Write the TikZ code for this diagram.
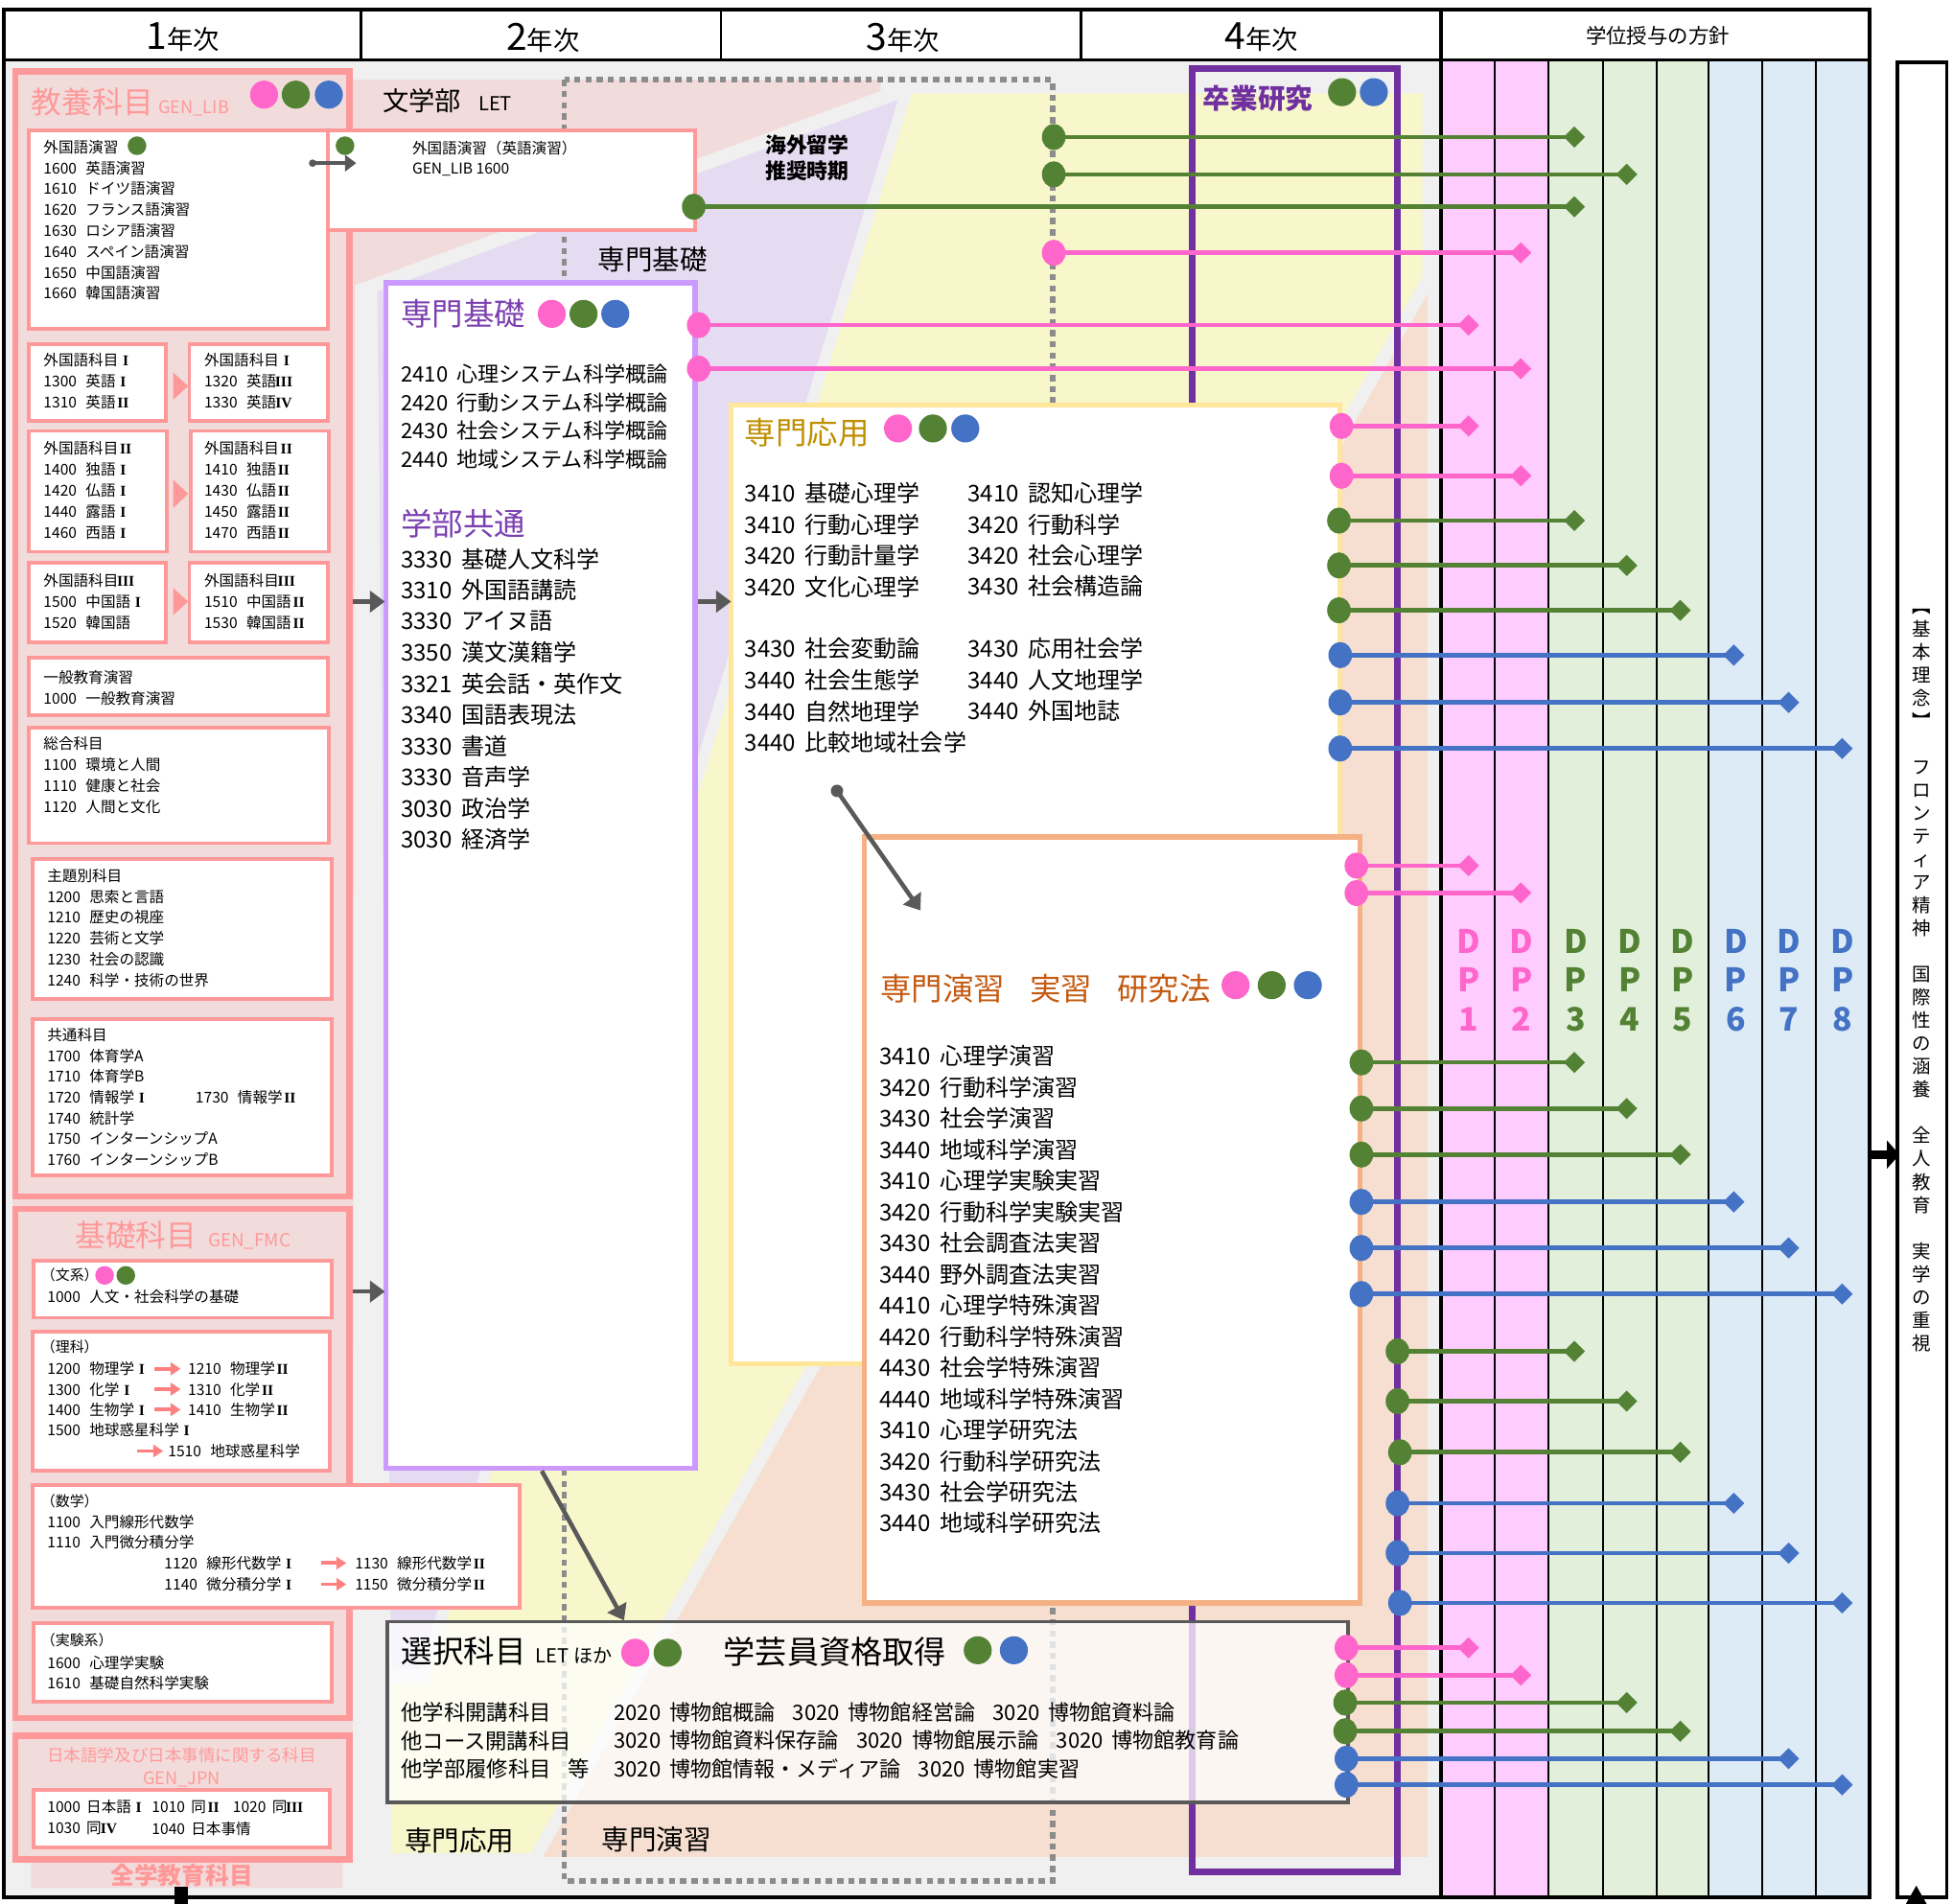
\documentclass[tikz,border=0pt]{standalone}
\usepackage{fontspec}
\setmainfont{Noto Sans CJK JP}
\newfontfamily\romf{Liberation Serif}
\usetikzlibrary{shapes.geometric,arrows.meta}
\definecolor{cpink}{HTML}{FF66CC}
\definecolor{cgreen}{HTML}{548235}
\definecolor{cblue}{HTML}{4472C4}
\definecolor{cpurple}{HTML}{7030A0}
\definecolor{cviolet}{HTML}{7B3FB0}
\definecolor{clav}{HTML}{CC99FF}
\definecolor{cyelb}{HTML}{FFE699}
\definecolor{cpeachb}{HTML}{F4B183}
\definecolor{csalmon}{HTML}{FF9999}
\definecolor{csalarr}{HTML}{FF8080}
\definecolor{bgpink}{HTML}{F2DCDB}
\definecolor{bglav}{HTML}{E6DCF2}
\definecolor{bgyel}{HTML}{F8F6CB}
\definecolor{bgpeach}{HTML}{F6DFD0}
\definecolor{bggray}{HTML}{F0F0F0}
\definecolor{dpa}{HTML}{FFCCFF}
\definecolor{dpb}{HTML}{E2EFDA}
\definecolor{dpc}{HTML}{DDEBF7}
\definecolor{cgold}{HTML}{BF8F00}
\definecolor{corange}{HTML}{C55A11}
\definecolor{cdark}{HTML}{595959}
\definecolor{cdash}{HTML}{8C8C8C}
\newcommand\fsz[1]{\fontsize{#1}{#1}\selectfont}
\newcommand\gq{\hspace{0.6em}}
\newcommand\gp{\hspace{0.4em}}
\newcommand\rn[1]{\makebox[1em][c]{\romf\bfseries #1}}
\newcommand\boxn[6]{\node[#1,minimum width={#5-#3},minimum height={#6-#4}] (#2) at (#3,#4) {};}
\newcommand\txl[6]{\foreach \lntxt [count=\lnidx from 0] in {#6}{\node[tx,font=\fsz{#5}] (#1\lnidx) at (#2,{#3+\lnidx*#4}) {\lntxt};}}
\newcommand\dpline[5]{%
  \coordinate (#1s) at (#3,#4); \coordinate (#1e) at (#5,#4);
  \draw[#2,line width=3.6] (#1s) -- (#1e);
  \node[sdot,fill=#2] (#1sd) at (#1s) {};
  \node[dmd,fill=#2] (#1ed) at (#1e) {};}
\tikzset{
  frm/.style={draw=csalmon,line width=5,fill=bgpink,rectangle,inner sep=0,outer sep=0,anchor=north west},
  ibx/.style={draw=csalmon,line width=3,fill=white,rectangle,inner sep=0,outer sep=0,anchor=north west},
  tdot/.style={circle,minimum size=22.5,inner sep=0,outer sep=0},
  smdot/.style={circle,minimum size=15,inner sep=0,outer sep=0},
  sdot/.style={ellipse,minimum width=19,minimum height=21,inner sep=0,outer sep=0},
  dmd/.style={diamond,minimum size=17,inner sep=0,outer sep=0},
  tx/.style={anchor=west,inner sep=0,outer sep=0},
  dplab/.style={align=center,font=\fontsize{26}{31}\selectfont\bfseries,inner sep=0},
  garr/.style={draw=cdark,line width=3.5,-{Triangle[length=12pt,width=17pt]}},
  sarr/.style={draw=csalarr,line width=3,-{Triangle[length=8pt,width=10pt]}}
}
\begin{document}
\begin{tikzpicture}[x=1pt,y=-1pt]
\useasboundingbox (0,0) rectangle (1568,1528.7);
\fill[white] (0,0) rectangle (1568,1528.7);
% body background and bands
\fill[bggray] (3,48) rectangle (1157,1523);
\fill[bgpink] (10,57) -- (283,57) -- (283,64) -- (707,64) -- (707,73) -- (285,229) -- (283,1495) -- (275,1495) -- (275,1516) -- (25,1516) -- (25,1495) -- (10,1495) -- cycle;
\fill[bglav] (721,80) -- (303,234) -- (314,1340) -- (337,1340) -- cycle;
\fill[bgyel] (732,75) -- (1142,75) -- (1142,222) -- (426,1488) -- (314,1488) -- (314,1352) -- (343,1352) -- cycle;
\fill[bgpeach] (1146,236) -- (1146,1491) -- (436,1491) -- cycle;
% DP columns
\fill[dpa] (1157,48) rectangle (1243,1523);
\fill[dpb] (1243,48) rectangle (1372,1523);
\fill[dpc] (1372,48) rectangle (1501,1523);
\foreach \xx in {1200,1243,1287,1330,1372,1415,1458} \draw[line width=1.4] (\xx,48) -- (\xx,1523);
% header
\fill[white] (3,8) rectangle (1501,48);
\draw[line width=3] (3,8) rectangle (1501,1523);
\draw[line width=2.5] (3,48) -- (1501,48);
\foreach \xx in {290,579,868} \draw[line width=2] (\xx,8) -- (\xx,48);
\draw[line width=3.5] (1157,8) -- (1157,1523);
\node[inner sep=0] (h1) at (147,30) {{\fsz{30}1}{\fsz{21}年次}};
\node[inner sep=0] (h2) at (436,30) {{\fsz{30}2}{\fsz{21}年次}};
\node[inner sep=0] (h3) at (725,30) {{\fsz{30}3}{\fsz{21}年次}};
\node[inner sep=0] (h4) at (1013,30) {{\fsz{30}4}{\fsz{21}年次}};
\node[inner sep=0] (hdp) at (1331,29) {\fsz{16.5}学位授与の方針};
% DP labels
\node[dplab,text=cpink] (dpl1) at (1179,787) {D\\P\\1};
\node[dplab,text=cpink] (dpl2) at (1221.5,787) {D\\P\\2};
\node[dplab,text=cgreen] (dpl3) at (1265,787) {D\\P\\3};
\node[dplab,text=cgreen] (dpl4) at (1308.5,787) {D\\P\\4};
\node[dplab,text=cgreen] (dpl5) at (1351,787) {D\\P\\5};
\node[dplab,text=cblue] (dpl6) at (1393.5,787) {D\\P\\6};
\node[dplab,text=cblue] (dpl7) at (1436.5,787) {D\\P\\7};
\node[dplab,text=cblue] (dpl8) at (1479.5,787) {D\\P\\8};
% right box
\node[draw,line width=3,rectangle,inner sep=0,outer sep=0,anchor=north west,minimum width=40,minimum height=1473] (kihon) at (1523,50) {};
\node[align=center,font=\fontsize{15}{18.5}\selectfont,inner sep=0] (kihontxt) at (1543,787) {︻\\基\\本\\理\\念\\︼\\　\\フ\\ロ\\ン\\テ\\ィ\\ア\\精\\神\\　\\国\\際\\性\\の\\涵\\養\\　\\全\\人\\教\\育\\　\\実\\学\\の\\重\\視};
\coordinate (bka) at (1501,927); \coordinate (bkb) at (1525,927);
\draw[line width=7,-{Triangle[length=10pt,width=22pt]}] (bka) -- (bkb);
\fill (1530,1529) -- (1538.5,1514) -- (1547,1529) -- cycle;
\fill (140,1515) rectangle (151,1529);
% dashed frame and graduation frame
\draw[cdash,line width=4.5,dash pattern=on 5pt off 4pt] (453,64) rectangle (845,1510);
\draw[cpurple,line width=5] (957,55) rectangle (1122,1503);
% general education frames
\boxn{frm}{kyoyo}{12.5}{57.5}{280.5}{960.5}
\boxn{frm}{kiso}{12.5}{970.5}{280.5}{1379.5}
\boxn{frm}{jpn}{12.5}{1393.5}{280.5}{1493}
\boxn{ibx}{a1}{23}{105}{263}{264}
\boxn{ibx}{a1x}{263}{105}{558}{185}
\boxn{ibx}{a2l}{23}{276}{133}{338}
\boxn{ibx}{a2r}{152}{276}{263}{338}
\boxn{ibx}{a3l}{23}{346}{134}{443}
\boxn{ibx}{a3r}{153}{346}{264}{443}
\boxn{ibx}{a4l}{23}{452}{133}{516}
\boxn{ibx}{a4r}{152}{452}{263}{516}
\boxn{ibx}{a5}{23}{528}{263}{574}
\boxn{ibx}{a6}{23}{584}{264}{677}
\boxn{ibx}{a7}{26}{690}{266}{802}
\boxn{ibx}{a8}{26}{818}{266}{944}
\boxn{ibx}{b1}{27}{1012}{266}{1058}
\boxn{ibx}{b2}{26}{1069}{265}{1181}
\boxn{ibx}{b3}{26}{1192}{417}{1291}
\boxn{ibx}{b4}{27}{1303}{266}{1366}
\boxn{ibx}{c1}{27}{1437}{265}{1483}
\fill[csalmon] (139,299) -- (151,310) -- (139,321) -- cycle;
\fill[csalmon] (139,385) -- (151,396.5) -- (139,408) -- cycle;
\fill[csalmon] (139,472) -- (151,483) -- (139,494) -- cycle;
% titles of general education
\node[anchor=base west,inner sep=0,text=csalmon] (kyt) at (25,91) {{\fsz{24.5}教養科目}{\fsz{14}\hspace{4pt}GEN\_LIB}};
\node[tdot,fill=cpink] (kyd1) at (212,76) {};
\node[tdot,fill=cgreen] (kyd2) at (237.5,76) {};
\node[tdot,fill=cblue] (kyd3) at (264,76) {};
\node[anchor=base west,inner sep=0,text=csalmon] (kst) at (60,1001) {{\fsz{24.5}基礎科目}{\fsz{14.5}\hspace{9pt}GEN\_FMC}};
\node[inner sep=0,text=csalmon,font=\fsz{13.5}] (jpt1) at (146,1409) {日本語学及び日本事情に関する科目};
\node[inner sep=0,text=csalmon,font=\fsz{14}] (jpt2) at (146,1429) {GEN\_JPN};
\node[inner sep=0,text=csalmon,font=\fsz{19}\bfseries] (zgt) at (146,1506) {全学教育科目};
% box texts (1st year)
\txl{a1t}{35}{118}{16.8}{12}{外国語演習, 1600\gq 英語演習, 1610\gq ドイツ語演習, 1620\gq フランス語演習, 1630\gq ロシア語演習, 1640\gq スペイン語演習, 1650\gq 中国語演習, 1660\gq 韓国語演習}
\node[smdot,fill=cgreen] (a1d) at (110,117) {};
\node[smdot,fill=cgreen] (a1xd) at (277,117) {};
\txl{a1xt}{331}{119}{17}{12}{外国語演習（英語演習）, GEN\_LIB 1600}
\txl{a2lt}{35}{289}{17}{12}{外国語科目\rn{I}, 1300\gq 英語\rn{I}, 1310\gq 英語\rn{II}}
\txl{a2rt}{164}{289}{17}{12}{外国語科目\rn{I}, 1320\gq 英語\rn{III}, 1330\gq 英語\rn{IV}}
\txl{a3lt}{35}{360}{17}{12}{外国語科目\rn{II}, 1400\gq 独語\rn{I}, 1420\gq 仏語\rn{I}, 1440\gq 露語\rn{I}, 1460\gq 西語\rn{I}}
\txl{a3rt}{164}{360}{17}{12}{外国語科目\rn{II}, 1410\gq 独語\rn{II}, 1430\gq 仏語\rn{II}, 1450\gq 露語\rn{II}, 1470\gq 西語\rn{II}}
\txl{a4lt}{35}{466}{17}{12}{外国語科目\rn{III}, 1500\gq 中国語\rn{I}, 1520\gq 韓国語}
\txl{a4rt}{164}{466}{17}{12}{外国語科目\rn{III}, 1510\gq 中国語\rn{II}, 1530\gq 韓国語\rn{II}}
\txl{a5t}{35}{544}{16.5}{12}{一般教育演習, 1000\gq 一般教育演習}
\txl{a6t}{35}{597}{17}{12}{総合科目, 1100\gq 環境と人間, 1110\gq 健康と社会, 1120\gq 人間と文化}
\txl{a7t}{38}{703}{16.8}{12}{主題別科目, 1200\gq 思索と言語, 1210\gq 歴史の視座, 1220\gq 芸術と文学, 1230\gq 社会の認識, 1240\gq 科学・技術の世界}
\txl{a8t}{38}{831}{16.7}{12}{共通科目, 1700\gq 体育学A, 1710\gq 体育学B, 1720\gq 情報学\rn{I}, 1740\gq 統計学, 1750\gq インターンシップA, 1760\gq インターンシップB}
\node[tx,font=\fsz{12}] (a8x) at (157,881) {1730\gq 情報学\rn{II}};
\node[tx,font=\fsz{11.5}] (b1h) at (33,1024) {（文系）};
\node[smdot,fill=cpink] (b1d1) at (84,1024) {};
\node[smdot,fill=cgreen] (b1d2) at (101,1024) {};
\node[tx,font=\fsz{12}] (b1t) at (38,1041) {1000\gq 人文・社会科学の基礎};
\node[tx,font=\fsz{11.5}] (b2h) at (33,1081) {（理科）};
\txl{b2l}{38}{1099}{16.4}{12}{1200\gq 物理学\rn{I}, 1300\gq 化学\rn{I}, 1400\gq 生物学\rn{I}, 1500\gq 地球惑星科学\rn{I}}
\txl{b2r}{151}{1099}{16.4}{12}{1210\gq 物理学\rn{II}, 1310\gq 化学\rn{II}, 1410\gq 生物学\rn{II}}
\node[tx,font=\fsz{12}] (b2x) at (135,1165) {1510\gq 地球惑星科学};
\foreach \yy [count=\k] in {1099,1115.4,1131.8} {\coordinate (sa\k s) at (124,\yy); \coordinate (sa\k e) at (145,\yy); \draw[sarr] (sa\k s) -- (sa\k e);}
\coordinate (sa4s) at (110,1165); \coordinate (sa4e) at (131,1165); \draw[sarr] (sa4s) -- (sa4e);
\node[tx,font=\fsz{11.5}] (b3h) at (33,1205) {（数学）};
\txl{b3a}{38}{1222}{16.5}{12}{1100\gq 入門線形代数学, 1110\gq 入門微分積分学}
\txl{b3b}{132}{1255}{17}{12}{1120\gq 線形代数学\rn{I}, 1140\gq 微分積分学\rn{I}}
\txl{b3c}{285}{1255}{17}{12}{1130\gq 線形代数学\rn{II}, 1150\gq 微分積分学\rn{II}}
\coordinate (sa5s) at (258,1255); \coordinate (sa5e) at (278,1255); \draw[sarr] (sa5s) -- (sa5e);
\coordinate (sa6s) at (258,1272); \coordinate (sa6e) at (278,1272); \draw[sarr] (sa6s) -- (sa6e);
\node[tx,font=\fsz{11.5}] (b4h) at (33,1317) {（実験系）};
\txl{b4t}{38}{1335}{16.5}{12}{1600\gq 心理学実験, 1610\gq 基礎自然科学実験}
\txl{c1t}{38}{1451}{17}{12}{1000\gp 日本語\rn{I}, 1030\gp 同\rn{IV}}
\node[tx,font=\fsz{12}] (c1b) at (122,1451) {1010\gp 同\rn{II}};
\node[tx,font=\fsz{12}] (c1c) at (187,1451) {1020\gp 同\rn{III}};
\node[tx,font=\fsz{12}] (c1d) at (122,1468) {1040\gp 日本事情};
% labels on background
\node[anchor=base west,inner sep=0] (bun) at (307,89) {{\fsz{21}文学部}\hspace{14pt}{\fsz{15.5}LET}};
\node[tx,font=\fsz{22}] (skl) at (480,208) {専門基礎};
\node[inner sep=0,font=\fsz{16.8}\bfseries] (kg1) at (648,116) {海外留学};
\node[inner sep=0,font=\fsz{16.8}\bfseries] (kg2) at (648,137) {推奨時期};
\node[tx,font=\fsz{22}] (soll) at (325,1478) {専門応用};
\node[tx,font=\fsz{22}] (sell) at (483,1477) {専門演習};
\node[tx,font=\fsz{22}\bfseries,text=cpurple] (sott) at (966,79) {卒業研究};
\node[tdot,fill=cgreen] (sotd1) at (1077.5,74) {};
\node[tdot,fill=cblue] (sotd2) at (1103,74) {};
% specialised boxes
\node[draw=clav,line width=4,fill=white,rectangle,inner sep=0,outer sep=0,anchor=north west,minimum width=248,minimum height=952] (sk) at (310,227) {};
\node[draw=cyelb,line width=4,fill=white,rectangle,inner sep=0,outer sep=0,anchor=north west,minimum width=489,minimum height=770] (so) at (587,325) {};
\node[draw=cpeachb,line width=4,fill=white,rectangle,inner sep=0,outer sep=0,anchor=north west,minimum width=398,minimum height=615] (se) at (694,672) {};
\node[draw=cdark,line width=3,fill=white,fill opacity=0.75,rectangle,inner sep=0,outer sep=0,anchor=north west,minimum width=771,minimum height=145] (sen) at (311,1302) {};
% 専門基礎 texts
\node[tx,font=\fsz{25},text=cviolet] (skt) at (322,252) {専門基礎};
\node[tdot,fill=cpink] (skd1) at (443,252) {};
\node[tdot,fill=cgreen] (skd2) at (468.5,252) {};
\node[tdot,fill=cblue] (skd3) at (494,252) {};
\txl{skt}{322}{300}{23}{17}{2410\gp 心理システム科学概論, 2420\gp 行動システム科学概論, 2430\gp 社会システム科学概論, 2440\gp 地域システム科学概論}
\node[tx,font=\fsz{25},text=cviolet] (gbt) at (322,420) {学部共通};
\txl{gbl}{322}{449}{25}{18.5}{3330\gp 基礎人文科学, 3310\gp 外国語講読, 3330\gp アイヌ語, 3350\gp 漢文漢籍学, 3321\gp 英会話・英作文, 3340\gp 国語表現法, 3330\gp 書道, 3330\gp 音声学, 3030\gp 政治学, 3030\gp 経済学}
% 専門応用 texts
\node[tx,font=\fsz{25},text=cgold] (sot) at (598,347) {専門応用};
\node[tdot,fill=cpink] (sod1) at (721,344) {};
\node[tdot,fill=cgreen] (sod2) at (749,344) {};
\node[tdot,fill=cblue] (sod3) at (775,344) {};
\txl{sol}{598}{396}{25}{18.5}{3410\gp 基礎心理学, 3410\gp 行動心理学, 3420\gp 行動計量学, 3420\gp 文化心理学}
\txl{solb}{598}{521}{25}{18.5}{3430\gp 社会変動論, 3440\gp 社会生態学, 3440\gp 自然地理学, 3440\gp 比較地域社会学}
\txl{sor}{777}{396}{25}{18.5}{3410\gp 認知心理学, 3420\gp 行動科学, 3420\gp 社会心理学, 3430\gp 社会構造論}
\txl{sorb}{777}{521}{25}{18.5}{3430\gp 応用社会学, 3440\gp 人文地理学, 3440\gp 外国地誌}
% 専門演習 texts
\node[tx,font=\fsz{25},text=corange] (set) at (707,794) {専門演習\hspace{20pt}実習\hspace{20pt}研究法};
\node[tdot,fill=cpink] (sed1) at (992,791) {};
\node[tdot,fill=cgreen] (sed2) at (1021,791) {};
\node[tdot,fill=cblue] (sed3) at (1050,791) {};
\txl{sel}{706}{848}{25}{18.5}{3410\gp 心理学演習, 3420\gp 行動科学演習, 3430\gp 社会学演習, 3440\gp 地域科学演習, 3410\gp 心理学実験実習, 3420\gp 行動科学実験実習, 3430\gp 社会調査法実習, 3440\gp 野外調査法実習, 4410\gp 心理学特殊演習, 4420\gp 行動科学特殊演習, 4430\gp 社会学特殊演習, 4440\gp 地域科学特殊演習, 3410\gp 心理学研究法, 3420\gp 行動科学研究法, 3430\gp 社会学研究法, 3440\gp 地域科学研究法}
% 選択科目 texts
\node[anchor=base west,inner sep=0] (sent) at (322,1335.5) {{\fsz{25}選択科目}\hspace{8pt}{\fsz{15.5}LET ほか}};
\node[tdot,fill=cpink] (send1) at (510,1327) {};
\node[tdot,fill=cgreen] (send2) at (536,1327) {};
\node[tx,font=\fsz{25.5}] (gakt) at (581,1326) {学芸員資格取得};
\node[tdot,fill=cgreen] (gakd1) at (785,1325) {};
\node[tdot,fill=cblue] (gakd2) at (814,1325) {};
\txl{senl}{322}{1375}{22.5}{17.2}{他学科開講科目, 他コース開講科目, 他学部履修科目\hspace{14pt}等}
\txl{senr}{493}{1375}{22.5}{17}{2020\gp 博物館概論\hspace{14pt}3020\gp 博物館経営論\hspace{14pt}3020\gp 博物館資料論, 3020\gp 博物館資料保存論\hspace{14pt}3020\gp 博物館展示論\hspace{14pt}3020\gp 博物館教育論, 3020\gp 博物館情報・メディア論\hspace{14pt}3020\gp 博物館実習}
% gray arrows
\coordinate (ga1s) at (283,483); \coordinate (ga1e) at (309,483); \draw[garr] (ga1s) -- (ga1e);
\coordinate (ga2s) at (283,1037); \coordinate (ga2e) at (309,1037); \draw[garr] (ga2s) -- (ga2e);
\coordinate (ga3s) at (560,483); \coordinate (ga3e) at (587,483); \draw[garr] (ga3s) -- (ga3e);
\coordinate (ga4s) at (251,131); \coordinate (ga4e) at (286,131);
\draw[cdark,line width=3.5,-{Triangle[length=9pt,width=13pt]}] (ga4s) -- (ga4e);
\fill[cdark] (ga4s) circle (3);
\coordinate (ga5s) at (435,1181); \coordinate (ga5e) at (501,1301); \draw[garr] (ga5s) -- (ga5e);
\coordinate (ga6s) at (672,635); \coordinate (ga6e) at (739,731);
\draw[garr] (ga6s) -- (ga6e);
\fill[cdark] (ga6s) circle (5);
% DP connectors
\dpline{la}{cgreen}{846}{110}{1264}
\dpline{lb}{cgreen}{846}{140}{1306}
\dpline{lc}{cgreen}{557}{166}{1264}
\dpline{ld}{cpink}{846}{203}{1221}
\dpline{le}{cpink}{561}{261}{1179}
\dpline{lf}{cpink}{561}{296}{1221}
\dpline{lg}{cpink}{1077}{342}{1179}
\dpline{lh}{cpink}{1077}{382}{1221}
\dpline{li}{cgreen}{1075}{418}{1264}
\dpline{lj}{cgreen}{1075}{454}{1306}
\dpline{lk}{cgreen}{1075}{490}{1349}
\dpline{ll}{cblue}{1076}{526}{1392}
\dpline{lm}{cblue}{1076}{564}{1436}
\dpline{ln}{cblue}{1076}{601}{1479}
\dpline{lo}{cpink}{1089}{695}{1179}
\dpline{lp}{cpink}{1089}{717}{1221}
\dpline{lq}{cgreen}{1093}{853}{1264}
\dpline{lr}{cgreen}{1093}{890}{1306}
\dpline{ls}{cgreen}{1093}{927}{1349}
\dpline{lt}{cblue}{1093}{965}{1392}
\dpline{lu}{cblue}{1093}{1002}{1436}
\dpline{lv}{cblue}{1093}{1039}{1479}
\dpline{lw}{cgreen}{1122}{1085}{1264}
\dpline{lx}{cgreen}{1122}{1125}{1306}
\dpline{ly}{cgreen}{1124}{1166}{1349}
\dpline{lz}{cblue}{1122}{1207}{1392}
\dpline{maa}{cblue}{1122}{1247}{1436}
\dpline{mab}{cblue}{1124}{1287}{1479}
\dpline{mac}{cpink}{1081}{1323}{1179}
\dpline{mad}{cpink}{1081}{1345}{1221}
\dpline{mae}{cgreen}{1080}{1367}{1306}
\dpline{maf}{cgreen}{1080}{1390}{1349}
\dpline{mag}{cblue}{1081}{1412}{1436}
\dpline{mah}{cblue}{1081}{1433}{1479}
\end{tikzpicture}
\end{document}
